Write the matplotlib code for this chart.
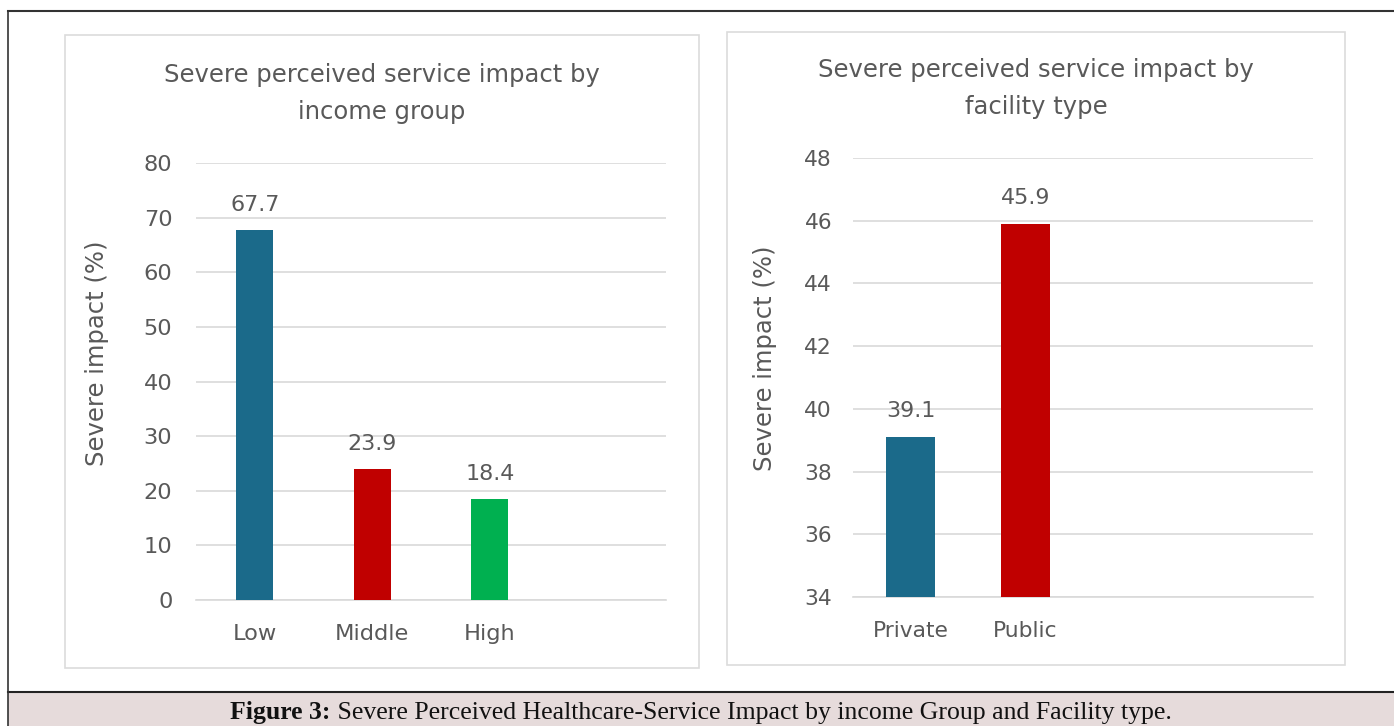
import matplotlib.pyplot as plt
from matplotlib.patches import Rectangle

W, H = 1394, 726

income_groups = ["Low", "Middle", "High"]
income_values = [67.7, 23.9, 18.4]
income_colors = ["#1b6a8a", "#c00000", "#00b050"]

facility_types = ["Private", "Public"]
facility_values = [39.1, 45.9]
facility_colors = ["#1b6a8a", "#c00000"]

txt = "#595959"
grid = "#d9d9d9"
font = "DejaVu Sans"


def fx(x):
    return x / W


def fy(y):
    return 1 - y / H


fig = plt.figure(figsize=(W / 100, H / 100), dpi=100)
fig.patch.set_facecolor("white")

# caption bar, outer frame lines, panel boxes
fig.patches.append(Rectangle((fx(8), 0), fx(1394 - 8), 34 / H,
                             transform=fig.transFigure, fc="#e6dbdb", ec="none"))
fig.lines.append(plt.Line2D([fx(8), 1], [fy(11), fy(11)], transform=fig.transFigure,
                            color="#333333", lw=1.5))
fig.lines.append(plt.Line2D([fx(8), 1], [fy(692), fy(692)], transform=fig.transFigure,
                            color="#222222", lw=1.5))
fig.lines.append(plt.Line2D([fx(8), fx(8)], [0, fy(11)], transform=fig.transFigure,
                            color="#333333", lw=1.2))
fig.patches.append(Rectangle((fx(65), fy(668)), fx(699 - 65), (668 - 35) / H,
                             transform=fig.transFigure, fill=False, ec="#dcdcdc", lw=1.2))
fig.patches.append(Rectangle((fx(727), fy(665)), fx(1345 - 727), (665 - 32) / H,
                             transform=fig.transFigure, fill=False, ec="#dcdcdc", lw=1.2))


def panel(rect, cats, vals, cols, ylim, step, width, fs, tpad, lbl_off):
    ax = fig.add_axes(rect)
    xs = list(range(len(cats)))
    ax.bar(xs, vals, width=width, color=cols, zorder=3)
    ax.set_xlim(-0.5, 3.5)
    ax.set_ylim(*ylim)
    ax.set_yticks(range(ylim[0], ylim[1] + 1, step))
    ax.set_xticks(xs)
    ax.set_xticklabels(cats)
    ax.grid(axis="y", color=grid, lw=1.2, zorder=0)
    for s in ["top", "right", "left"]:
        ax.spines[s].set_visible(False)
    ax.spines["bottom"].set_color(grid)
    ax.spines["bottom"].set_linewidth(1.2)
    ax.tick_params(length=0, labelsize=fs, labelcolor=txt, pad=tpad)
    ax.tick_params(axis="x", pad=17)
    for lab in ax.get_xticklabels() + ax.get_yticklabels():
        lab.set_family(font)
    for x, v in zip(xs, vals):
        ax.annotate(f"{v}", (x, v), xytext=(0, lbl_off), textcoords="offset points",
                    ha="center", va="bottom", fontsize=16, color=txt, family=font)
    return ax


panel([fx(196), fy(600), fx(666 - 196), (600 - 163) / H], income_groups, income_values,
      income_colors, (0, 80), 10, 0.315, 16.2, 17, 11)
panel([fx(853), fy(597), fx(1313 - 853), (597 - 158) / H], facility_types, facility_values,
      facility_colors, (34, 48), 2, 0.42, 15.7, 15, 11.5)

fig.text(fx(382), fy(93.5), "Severe perceived service impact by\nincome group", ha="center",
         va="center", fontsize=17.5, color=txt, family=font, linespacing=1.65)
fig.text(fx(1036), fy(88.5), "Severe perceived service impact by\nfacility type", ha="center",
         va="center", fontsize=17.5, color=txt, family=font, linespacing=1.65)
fig.text(fx(97), fy(353), "Severe impact (%)", rotation=90, ha="center", va="center",
         fontsize=17.5, color=txt, family=font)
fig.text(fx(765), fy(358), "Severe impact (%)", rotation=90, ha="center", va="center",
         fontsize=17.5, color=txt, family=font)

# caption: bold label then regular text, on a shared baseline
fig.canvas.draw()
r = fig.canvas.get_renderer()
b = fig.text(0, fy(719), "Figure 3:", fontsize=18.5, weight="bold", family="Liberation Serif",
             va="baseline", color="#111111")
rest = " Severe Perceived Healthcare-Service Impact by income Group and Facility type."
t = fig.text(0, fy(719), rest, fontsize=18.5, family="Liberation Serif", va="baseline",
             color="#111111")
wb = b.get_window_extent(r).width
wt = t.get_window_extent(r).width
x0 = 701 - (wb + wt) / 2
b.set_x(fx(x0))
t.set_x(fx(x0 + wb))

fig.savefig("out.png", dpi=100)
